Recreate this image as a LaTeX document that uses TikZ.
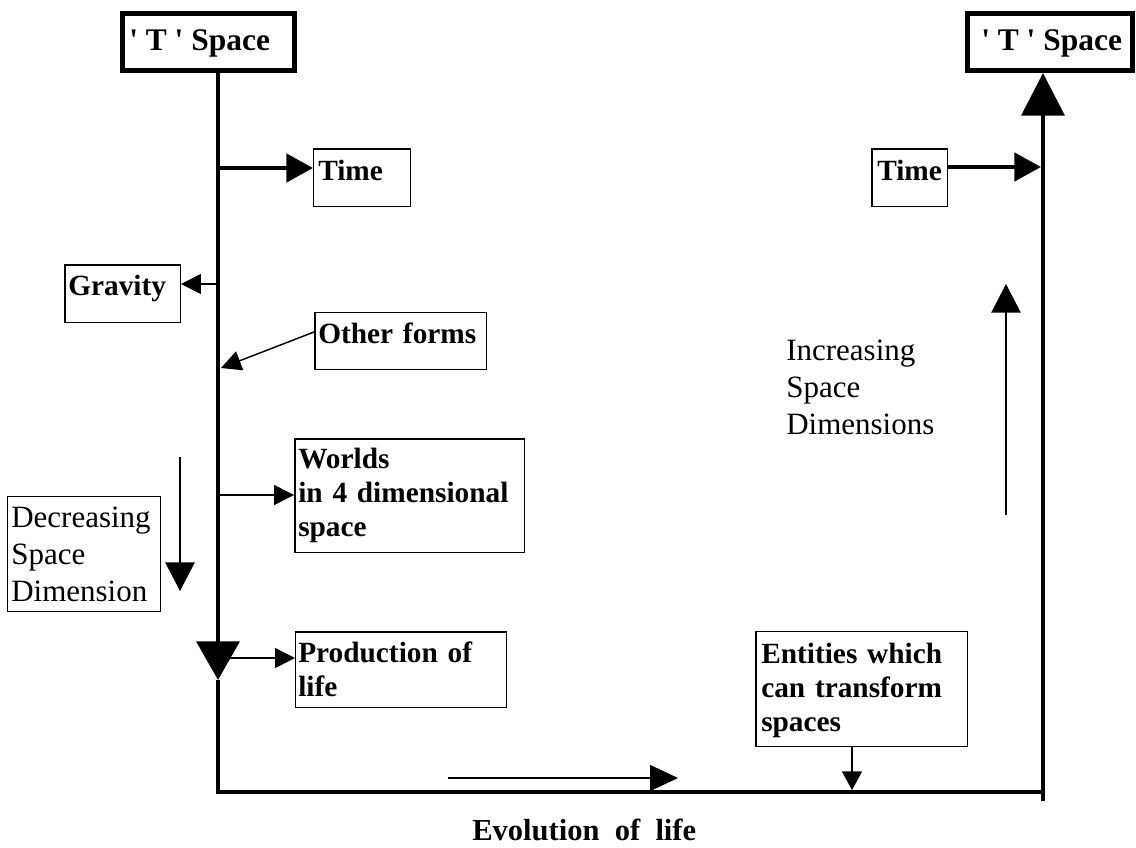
\documentclass[tikz,border=0pt]{standalone}
\usepackage{fontspec}
\setmainfont{Liberation Serif}
\usetikzlibrary{arrows.meta,calc}
\begin{document}
\begin{tikzpicture}[x=0.75pt,y=-0.75pt,
  boxthin/.style={draw,line width=1.1pt,inner sep=0pt,rectangle},
  boxthick/.style={draw,line width=3.75pt,inner sep=0pt,rectangle},
  btxt/.style={anchor=base west,inner sep=0pt,align=left,text width=250pt,font=\fontsize{22}{25.5}\selectfont\bfseries},
  ntxt/.style={anchor=base west,inner sep=0pt,align=left,text width=200pt,font=\fontsize{23.25}{27.75}\selectfont},
  ttxt/.style={anchor=base west,inner sep=0pt,font=\fontsize{23.6}{28}\selectfont\bfseries},
  axisline/.style={line width=3.6pt,line join=miter},
  tarrow/.style={line width=3.6pt,-{Triangle[length=20pt,width=21pt]}},
  narrow/.style={line width=1.1pt,-{Triangle[length=15pt,width=15pt]}},
  larrow/.style={line width=1.1pt,-{Triangle[length=21.5pt,width=22pt]}}
]
\useasboundingbox (0,0) rectangle (1136,847);
\fill[white] (0,0) rectangle (1136,847);

% boxes
\node[boxthick,minimum width=129pt,minimum height=42.75pt] (tl) at (208.5,42) {};
\node[boxthick,minimum width=123.75pt,minimum height=42.75pt] (tr) at (1050,42) {};
\node[boxthin,minimum width=72.4pt,minimum height=43.1pt] (timeL) at (362,177.5) {};
\node[boxthin,minimum width=56.6pt,minimum height=43.1pt] (timeR) at (909.5,177.5) {};
\node[boxthin,minimum width=86.6pt,minimum height=43.1pt] (grav) at (122.5,293.5) {};
\node[boxthin,minimum width=128.6pt,minimum height=42.4pt] (of) at (400.5,341) {};
\node[boxthin,minimum width=172.1pt,minimum height=85.1pt] (wo) at (409.5,495.5) {};
\node[boxthin,minimum width=114.4pt,minimum height=85.9pt] (dec) at (84,554) {};
\node[boxthin,minimum width=157.9pt,minimum height=56.6pt] (pr) at (401,669.5) {};
\node[boxthin,minimum width=158.6pt,minimum height=85.9pt] (en) at (861.5,689) {};

% texts
\node[ttxt] (tlt) at (129,50) {\textquotesingle\ T \textquotesingle\ Space};
\node[ttxt] (trt) at (981,50) {\textquotesingle\ T \textquotesingle\ Space};
\node[btxt] (timeLt) at (318,180) {Time};
\node[btxt] (timeRt) at (877,180) {Time};
\node[btxt] (gravt) at (68,295) {Gravity};
\node[btxt] (oft) at (318,343) {Other forms};
\node[btxt] (wot) at (298,468) {Worlds\\in 4 dimensional\\space};
\node[ntxt] (dect) at (11,527) {Decreasing\\Space\\Dimension};
\node[btxt] (prt) at (298,662) {Production of\\life};
\node[btxt] (ent) at (761,663) {Entities which\\can transform\\spaces};
\node[ntxt] (inct) at (786,360) {Increasing\\Space\\Dimensions};
\node[anchor=base west,inner sep=0pt,font=\fontsize{22.9}{27}\selectfont\bfseries] (evo) at (472,840) {Evolution\ \ of\ \ life};

% main axes
\coordinate (lx) at (218,0);
\coordinate (ltip) at (218,680);
\coordinate (lbot) at (218,792);
\coordinate (rbot) at (1045,792);
\coordinate (rb) at (1043,801);
\draw[axisline,-{Triangle[length=29pt,width=32pt]}] (lx |- tl.south) -- (ltip);
\draw[axisline] (ltip) -- (lbot) -- (rbot);
\draw[axisline,-{Triangle[length=32pt,width=32pt]}] (rb) -- (rb |- tr.south);

% connectors
\coordinate (c1) at (218,168);
\coordinate (c2) at (218,284);
\coordinate (c3) at (221,368);
\coordinate (c4) at (218,495);
\coordinate (c5) at (218,658);
\coordinate (c6) at (1041,167);
\coordinate (c7) at (852,790);
\draw[tarrow] (c1) -- (c1 -| timeL.west);
\draw[tarrow] (c6 -| timeR.east) -- (c6);
\draw[narrow] (c2) -- (c2 -| grav.east);
\draw[narrow] ($(of.west)+(0,-9)$) -- (c3);
\draw[narrow] (c4) -- (c4 -| wo.west);
\draw[narrow] (c5) -- (c5 -| pr.west);
\draw[narrow,-{Triangle[length=14pt,width=15pt]}] (c7 |- en.south) -- (c7);

% free arrows
\coordinate (d1) at (180,457);
\coordinate (d2) at (180,591);
\coordinate (i1) at (1006,515);
\coordinate (i2) at (1006,284);
\coordinate (e1) at (448,778);
\coordinate (e2) at (678,778);
\draw[larrow] (d1) -- (d2);
\draw[larrow] (i1) -- (i2);
\draw[line width=1.1pt,-{Triangle[length=21pt,width=19.5pt]}] (e1) -- (e2);
\end{tikzpicture}
\end{document}
